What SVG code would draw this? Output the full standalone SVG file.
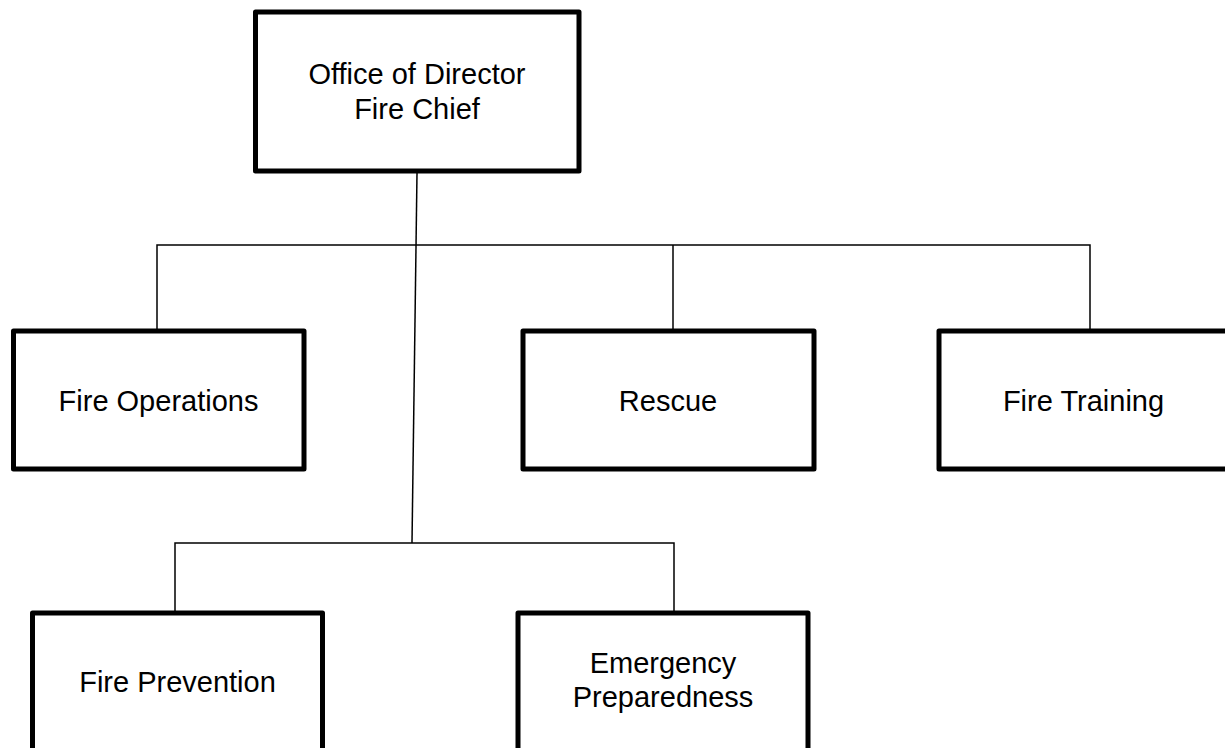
<svg xmlns="http://www.w3.org/2000/svg" width="1225" height="748" viewBox="0 0 1225 748">
  <style>
    .box { fill: #ffffff; stroke: #000000; stroke-width: 5; stroke-linejoin: round; }
    .lbl { font-family: "Liberation Sans", Arial, sans-serif; font-size: 29px; fill: #000000; text-anchor: middle; }
    .conn { fill: none; stroke: #000000; stroke-width: 1.5; }
  </style>
  <rect width="1225" height="748" fill="#ffffff"/>

  <!-- connectors -->
  <g id="connectors">
    <path class="conn" d="M417,173 L412,543"/>
    <path class="conn" d="M157,331 V245 H1090 V331"/>
    <path class="conn" d="M673,245 V331"/>
    <path class="conn" d="M175,613 V543 H674 V613"/>
  </g>

  <g id="office-director">
    <rect class="box" x="255.5" y="12" width="323.5" height="159"/>
    <text class="lbl" x="417" y="83.5">Office of Director</text>
    <text class="lbl" x="417" y="118.5">Fire Chief</text>
  </g>

  <g id="fire-operations">
    <rect class="box" x="13.5" y="331" width="290.5" height="138"/>
    <text class="lbl" x="158.5" y="410.5">Fire Operations</text>
  </g>

  <g id="rescue">
    <rect class="box" x="523" y="331" width="291" height="138"/>
    <text class="lbl" x="668" y="410.5">Rescue</text>
  </g>

  <g id="fire-training">
    <rect class="box" x="939" y="331" width="289" height="138"/>
    <text class="lbl" x="1083.5" y="410.5">Fire Training</text>
  </g>

  <g id="fire-prevention">
    <rect class="box" x="32.5" y="613" width="290" height="140"/>
    <text class="lbl" x="177.5" y="692">Fire Prevention</text>
  </g>

  <g id="emergency-preparedness">
    <rect class="box" x="518" y="613" width="290" height="140"/>
    <text class="lbl" x="663" y="673">Emergency</text>
    <text class="lbl" x="663" y="707">Preparedness</text>
  </g>
</svg>
